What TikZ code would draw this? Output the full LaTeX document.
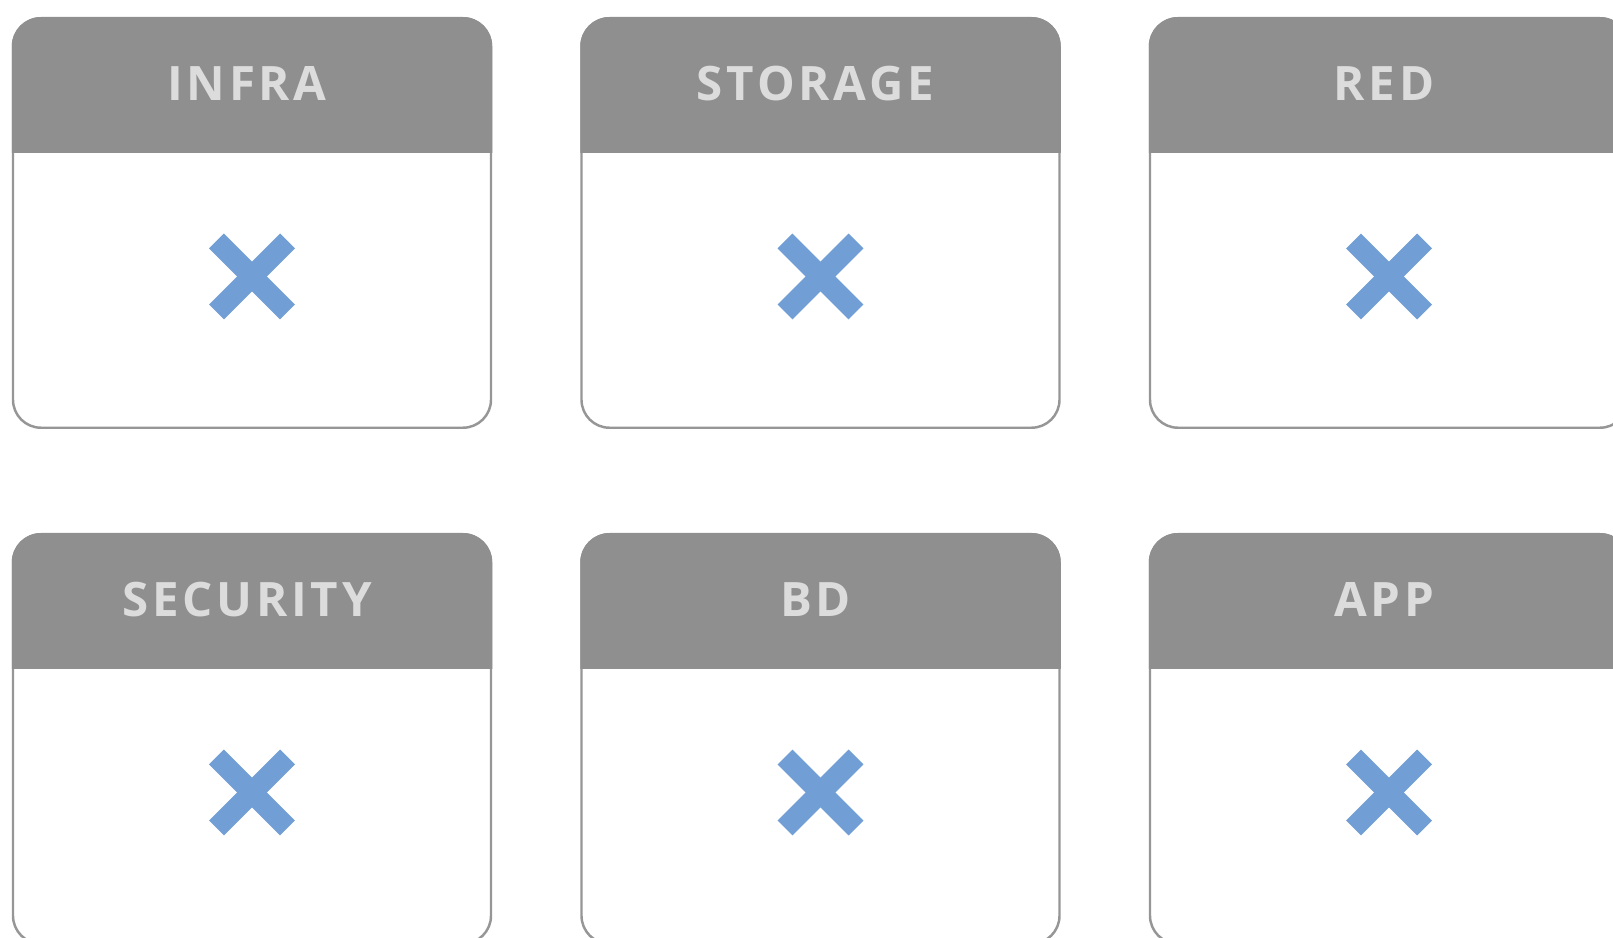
\documentclass[tikz,border=0pt]{standalone}
\usepackage{fontspec}
\setmainfont{Open Sans}
\newfontfamily\titlefont[LetterSpace=8]{Open Sans}
\usepackage{tikz}
\usetikzlibrary{positioning}
\definecolor{headgray}{HTML}{8E8F8E}
\definecolor{edgegray}{HTML}{969696}
\definecolor{titlegray}{HTML}{DCDCDC}
\definecolor{crossblue}{HTML}{719ED5}

\begin{document}
\begin{tikzpicture}[
    node distance = 2.13cm and 1.81cm,
    card/.style = {rectangle, draw=edgegray, line width=1.4pt, fill=white,
                   rounded corners=0.56cm, minimum width=9.56cm,
                   minimum height=8.19cm, inner sep=0pt, outer sep=0pt},
    titel/.style = {text=titlegray, anchor=base, inner sep=0pt,
                    font=\titlefont\bfseries\fontsize{27}{30}\selectfont},
    kryss/.style = {draw=crossblue, line width=0.42cm, line cap=butt}
    ]

  \useasboundingbox (0,0) rectangle (32.26,18.76);
  \clip (0,0) rectangle (32.26,18.76);

  \node[card] (infra) at (5.04,14.3) {};
  \node[card] (storage) [right=of infra] {};
  \node[card] (red) [right=of storage] {};
  \node[card] (security) [below=of infra] {};
  \node[card] (bd) [right=of security] {};
  \node[card] (app) [right=of bd] {};

  % header, title and cross on every card
  \foreach \kort/\navn in {infra/INFRA, storage/STORAGE, red/RED,
                           security/SECURITY, bd/BD, app/APP} {
    \begin{scope}
      \clip ([shift={(-0.1,0.1)}]\kort.north west) rectangle ([shift={(0.1,-2.68)}]\kort.north east);
      \fill[headgray, rounded corners=0.585cm]
        ([shift={(-0.025,0.025)}]\kort.north west) rectangle ([shift={(0.025,-0.025)}]\kort.south east);
    \end{scope}
    \node[titel] (\kort-titel) at ([shift={(-0.1,-1.655)}]\kort.north) {\navn};
    \coordinate (\kort-x) at ([yshift=-5.165cm]\kort.north);
    \draw[kryss] ([shift={(-0.71,0.71)}]\kort-x) -- ([shift={(0.71,-0.71)}]\kort-x);
    \draw[kryss] ([shift={(-0.71,-0.71)}]\kort-x) -- ([shift={(0.71,0.71)}]\kort-x);
  }

\end{tikzpicture}
\end{document}
